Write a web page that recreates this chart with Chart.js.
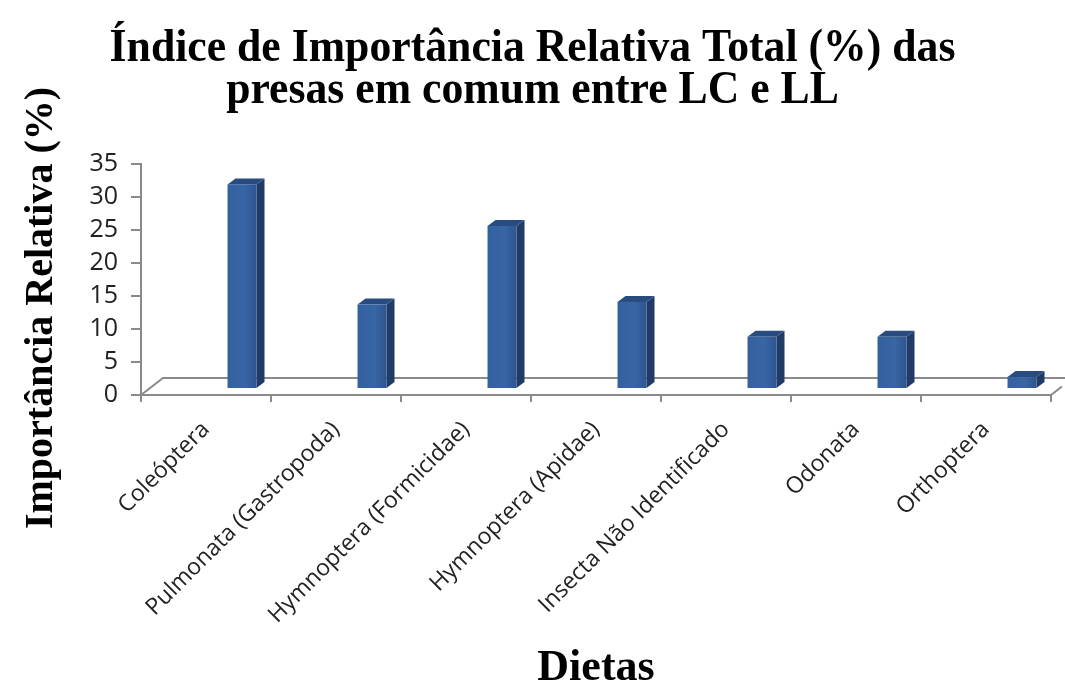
<!DOCTYPE html>
<html>
<head>
<meta charset="utf-8">
<script src="https://cdn.jsdelivr.net/npm/chart.js@4/dist/chart.umd.min.js"></script>
<style>
  html, body { margin: 0; padding: 0; background: #fff; }
  #wrap { width: 1065px; height: 686px; }
</style>
</head>
<body>
<div id="wrap"><canvas id="iriChart"></canvas></div>
<script>
// Índice de Importância Relativa Total (%) - presas em comum entre LC e LL
const categories = ['Coleóptera', 'Pulmonata (Gastropoda)', 'Hymnoptera (Formicidae)',
    'Hymnoptera (Apidae)', 'Insecta Não Identificado', 'Odonata', 'Orthoptera'];
const iriValues = [31, 12.8, 24.7, 13.2, 7.9, 7.9, 1.8];
const yTicks = [0, 5, 10, 15, 20, 25, 30, 35];

const titleLines = ['Índice de Importância Relativa Total (%) das', 'presas em comum entre LC e LL'];
const yTitle = 'Importância Relativa (%)';
const xTitle = 'Dietas';

const axisGray = '#8a8a8a';
const depthX = 22, depthY = 17;        // floor depth
const barDX = 8, barDY = 6;            // bar depth

// floor lines + 3d boxes
const floor3d = {
    id: 'floor3d',
    beforeDatasetsDraw(chart) {
        const { ctx, chartArea: a } = chart;
        ctx.save();
        ctx.strokeStyle = axisGray;
        ctx.lineWidth = 2;
        ctx.beginPath();
        ctx.moveTo(a.left, a.bottom);
        ctx.lineTo(a.left + depthX, a.bottom - depthY);
        ctx.lineTo(a.right + depthX, a.bottom - depthY);
        ctx.moveTo(a.right, a.bottom);
        ctx.lineTo(a.right + depthX * 0.5, a.bottom - depthY * 0.5);
        ctx.stroke();
        ctx.restore();
    },
    afterDatasetsDraw(chart) {
        const { ctx } = chart;
        const meta = chart.getDatasetMeta(0);
        const xs = chart.scales.x;
        const shift = xs.width / categories.length * 0.277;
        ctx.save();
        meta.data.forEach(el => {
            const w = el.width;
            const l = el.x + shift - w / 2, r = el.x + shift + w / 2;
            const top = el.y - 6, bot = el.base - 6;
            // side
            ctx.fillStyle = '#1f3b66';
            ctx.beginPath();
            ctx.moveTo(r, top); ctx.lineTo(r + barDX, top - barDY);
            ctx.lineTo(r + barDX, bot - barDY); ctx.lineTo(r, bot);
            ctx.closePath(); ctx.fill();
            // top
            ctx.fillStyle = '#284b80';
            ctx.beginPath();
            ctx.moveTo(l, top); ctx.lineTo(l + barDX, top - barDY);
            ctx.lineTo(r + barDX, top - barDY); ctx.lineTo(r, top);
            ctx.closePath(); ctx.fill();
            // front
            const g = ctx.createLinearGradient(l, 0, r, 0);
            g.addColorStop(0, '#33609e');
            g.addColorStop(0.6, '#3865a3');
            g.addColorStop(1, '#2d5590');
            ctx.fillStyle = g;
            ctx.fillRect(l, top, w, bot - top);
        });
        ctx.restore();
    },
    afterDraw(chart) {
        const { ctx, chartArea: a } = chart;
        const serif = '"Liberation Serif", "Times New Roman", serif';
        ctx.save();
        ctx.fillStyle = '#000';
        ctx.textAlign = 'center';
        ctx.textBaseline = 'alphabetic';
        // title, slightly condensed like the original
        ctx.font = 'bold 47px ' + serif;
        titleLines.forEach((t, i) => {
            ctx.save();
            ctx.translate(chart.width / 2, 61 + i * 42);
            ctx.scale(0.93, 1);
            ctx.fillText(t, 0, 0);
            ctx.restore();
        });
        ctx.font = 'bold 44px ' + serif;
        ctx.fillText(xTitle, (a.left + a.right) / 2, 680);
        ctx.translate(52, 308);
        ctx.rotate(-Math.PI / 2);
        ctx.font = 'bold 40px ' + serif;
        ctx.fillText(yTitle, 0, 0);
        ctx.restore();
    }
};

const ctx = document.getElementById('iriChart').getContext('2d');
new Chart(ctx, {
    type: 'bar',
    data: {
        labels: categories,
        datasets: [{
            label: 'IRI (%)',
            data: iriValues,
            backgroundColor: 'rgba(0,0,0,0)',
            borderWidth: 0,
            categoryPercentage: 1,
            barPercentage: 0.223
        }]
    },
    options: {
        responsive: true,
        maintainAspectRatio: false,
        animation: false,
        layout: { padding: { top: 164, right: 14, left: 0, bottom: 0 } },
        plugins: {
            legend: { display: false },
            tooltip: { enabled: false },
            title: { display: false }
        },
        scales: {
            y: {
                min: 0,
                max: 35,
                afterBuildTicks: s => { s.ticks = yTicks.map(v => ({ value: v })); },
                afterFit: s => { s.width = 141; },
                ticks: {
                    color: '#222',
                    padding: 13,
                    font: { family: '"Open Sans", sans-serif', size: 25 }
                },
                grid: { drawOnChartArea: false, drawTicks: true, tickLength: 10, color: axisGray, lineWidth: 2 },
                border: { display: true, color: axisGray, width: 2 }
            },
            x: {
                afterFit: s => { s.height = 291; },
                ticks: {
                    color: '#222',
                    autoSkip: false,
                    minRotation: 45,
                    maxRotation: 45,
                    padding: 14,
                    font: { family: '"Open Sans", sans-serif', size: 23 }
                },
                grid: { drawOnChartArea: false, drawTicks: true, tickLength: 7, color: axisGray, lineWidth: 2 },
                border: { display: true, color: axisGray, width: 2 }
            }
        }
    },
    plugins: [floor3d]
});
</script>
</body>
</html>
